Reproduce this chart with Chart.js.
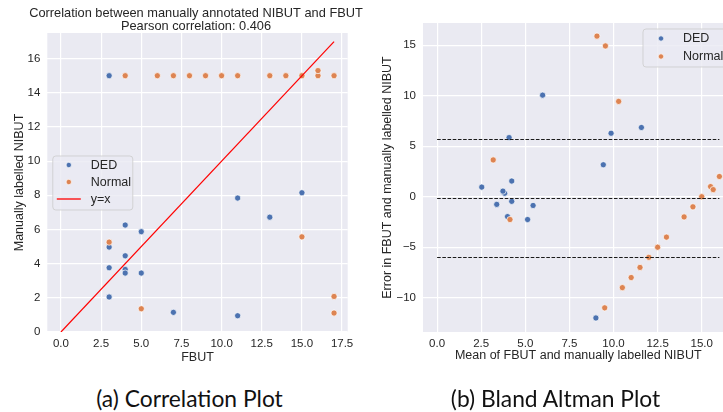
<!DOCTYPE html>
<html><head><meta charset="utf-8">
<script src="https://cdn.jsdelivr.net/npm/chart.js@4.4.1/dist/chart.umd.min.js"></script>
<style>
html,body{margin:0;padding:0;background:#fff;overflow:hidden;width:723px;height:412px;}
canvas{position:absolute;top:0;}
#c1{left:0;}
#c2{left:360px;}
.cap{position:absolute;font-family:Lato,'Open Sans',sans-serif;font-size:22.8px;line-height:22px;color:#111;white-space:nowrap;text-align:center;width:300px;}
</style></head><body>
<canvas id="c1" width="380" height="372"></canvas>
<canvas id="c2" width="380" height="372"></canvas>
<div class="cap" style="left:39.5px;top:386.5px;">(a) Correlation Plot</div>
<div class="cap" style="left:405.5px;top:386.5px;">(b) Bland Altman Plot</div>
<script>
// ---- Data: correlation plot (FBUT vs manually labelled NIBUT)
const dedFBUT   = [3, 11, 15, 13, 4, 5, 3, 4, 3, 4, 4, 5, 3, 7, 11];
const dedNIBUT  = [15, 7.84, 8.15, 6.72, 6.26, 5.87, 4.97, 4.46, 3.76, 3.66, 3.45, 3.45, 2.05, 1.15, 0.95];
const normalFBUT  = [4, 6, 7, 8, 9, 10, 11, 13, 14, 15, 16, 16, 17, 3, 5, 15, 17, 17];
const normalNIBUT = [15, 15, 15, 15, 15, 15, 15, 15, 15, 15, 15, 15.3, 15, 5.26, 1.36, 5.57, 2.08, 1.11];
const identityLine = [0, 17];

// ---- Data: Bland Altman plot (mean vs error)
const dedMean  = [9, 9.42, 11.58, 9.86, 5.13, 5.44, 3.99, 4.23, 3.38, 3.83, 3.73, 4.23, 2.53, 4.08, 5.98];
const dedDiff  = [-12, 3.16, 6.85, 6.28, -2.26, -0.87, -1.97, -0.46, -0.76, 0.34, 0.55, 1.55, 0.95, 5.85, 10.05];
const normalMean = [9.5, 10.5, 11, 11.5, 12, 12.5, 13, 14, 14.5, 15, 15.5, 15.65, 16, 4.13, 3.18, 10.29, 9.54, 9.06];
const normalDiff = [-11, -9, -8, -7, -6, -5, -4, -2, -1, 0, 1, 0.7, 2, -2.26, 3.64, 9.43, 14.92, 15.89];
const baLimits = [5.66, -0.18, -6.02];   // upper LoA, mean, lower LoA
const baLineX = [0, 16];

// ---- Ticks
const corrXTicks = [0, 2.5, 5, 7.5, 10, 12.5, 15, 17.5];
const corrYTicks = [0, 2, 4, 6, 8, 10, 12, 14, 16];
const baXTicks = [0, 2.5, 5, 7.5, 10, 12.5, 15];
const baYTicks = [-10, -5, 0, 5, 10, 15];

const BLUE = '#4C72B0', ORANGE = '#DD8452', TXT = '#262626', BG = '#EAEAF2';
const FONT = "'Liberation Sans', Arial, sans-serif";

const pts = (xs, ys) => xs.map((x, i) => ({x, y: ys[i]}));
const fmtMinus = v => (v < 0 ? '\u2212' + Math.abs(v) : String(v));

const bgPlugin = {
  id: 'bg',
  beforeDraw(chart) {
    const {ctx, chartArea: a} = chart;
    ctx.save(); ctx.fillStyle = BG;
    ctx.fillRect(a.left, a.top, a.right - a.left, a.bottom - a.top);
    ctx.restore();
  }
};

function rrect(ctx, x, y, w, h, r) {
  ctx.beginPath();
  ctx.moveTo(x + r, y);
  ctx.lineTo(x + w - r, y); ctx.arcTo(x + w, y, x + w, y + r, r);
  ctx.lineTo(x + w, y + h - r); ctx.arcTo(x + w, y + h, x + w - r, y + h, r);
  ctx.lineTo(x + r, y + h); ctx.arcTo(x, y + h, x, y + h - r, r);
  ctx.lineTo(x, y + r); ctx.arcTo(x, y, x + r, y, r);
  ctx.closePath();
}

const legendPlugin = {
  id: 'customLegend',
  afterDraw(chart, args, o) {
    if (!o || !o.items) return;
    const {ctx, chartArea: a} = chart;
    const bx = a.left + o.dx, by = a.top + o.dy;
    ctx.save();
    rrect(ctx, bx, by, o.w, o.h, 3);
    ctx.fillStyle = 'rgba(234,234,242,0.8)';
    ctx.fill();
    ctx.strokeStyle = 'rgba(204,204,204,0.8)';
    ctx.lineWidth = 1;
    ctx.stroke();
    ctx.font = '12.5px ' + FONT;
    ctx.textBaseline = 'middle';
    ctx.fillStyle = TXT;
    o.items.forEach((it, i) => {
      const y = by + o.first + i * o.gap;
      if (it.type === 'line') {
        ctx.strokeStyle = it.color; ctx.lineWidth = 1.3;
        ctx.beginPath(); ctx.moveTo(bx + o.lineX0, y); ctx.lineTo(bx + o.lineX1, y); ctx.stroke();
      } else {
        ctx.beginPath(); ctx.arc(bx + o.mx, y, 2.7, 0, Math.PI * 2);
        ctx.fillStyle = it.color; ctx.fill();
        ctx.strokeStyle = '#fff'; ctx.lineWidth = 0.7; ctx.stroke();
      }
      ctx.fillStyle = TXT;
      ctx.fillText(it.label, bx + o.tx, y + 0.5);
    });
    ctx.restore();
  }
};

const titlePlugin = {
  id: 'twoLineTitle',
  afterDraw(chart, args, o) {
    if (!o || !o.lines) return;
    const {ctx, chartArea: a} = chart;
    ctx.save();
    ctx.font = '12.8px ' + FONT;
    ctx.fillStyle = TXT; ctx.textAlign = 'center'; ctx.textBaseline = 'middle';
    const cx = (a.left + a.right) / 2 - 1.5;
    o.lines.forEach((t, i) => ctx.fillText(t, cx, o.y0 + i * o.gap));
    ctx.restore();
  }
};

const scatterDs = (label, data, color) => ({
  type: 'scatter', label, data,
  backgroundColor: color, borderColor: '#ffffff', borderWidth: 0.7,
  pointRadius: 3.1, pointHoverRadius: 3.1
});

function axis(opts) {
  const {min, max, ticks, fmt, size, horizontal, title, titlePad} = opts;
  return {
    type: 'linear', min, max,
    afterBuildTicks: s => { s.ticks = ticks.map(v => ({value: v})); },
    afterFit: s => { if (horizontal) s.height = size; else s.width = size; },
    grid: {color: '#ffffff', lineWidth: 1.2, drawTicks: false},
    border: {display: false},
    ticks: {
      color: TXT, font: {family: FONT, size: 11.5},
      padding: horizontal ? 5 : 7,
      maxRotation: 0, autoSkip: false,
      callback: v => fmt(v)
    },
    title: {display: true, text: title, color: TXT, font: {family: FONT, size: 12.5}, padding: titlePad}
  };
}

const common = {
  responsive: false, animation: false,
  plugins: {legend: {display: false}, tooltip: {enabled: false}},
};

new Chart(document.getElementById('c1'), {
  type: 'scatter',
  data: {
    datasets: [
      {type: 'line', label: 'y=x', data: pts(identityLine, identityLine),
       borderColor: '#ff0000', borderWidth: 1.2, pointRadius: 0, fill: false, tension: 0, order: 0},
      Object.assign(scatterDs('DED', pts(dedFBUT, dedNIBUT), BLUE), {order: 2}),
      Object.assign(scatterDs('Normal', pts(normalFBUT, normalNIBUT), ORANGE), {order: 1})
    ]
  },
  options: Object.assign({}, common, {
    layout: {padding: {left: 0, top: 33, right: 32.3, bottom: 0}},
    scales: {
      x: axis({min: -0.85, max: 17.85, ticks: corrXTicks, fmt: v => v.toFixed(1), size: 40,
               horizontal: true, title: 'FBUT', titlePad: {top: 0, bottom: 7.3}}),
      y: axis({min: 0, max: 17.5, ticks: corrYTicks, fmt: v => String(v), size: 47.3,
               horizontal: false, title: 'Manually labelled NIBUT', titlePad: {top: 12, bottom: 0}})
    },
    plugins: Object.assign({}, common.plugins, {
      customLegend: {dx: 5.5, dy: 123, w: 80, h: 54, first: 9, gap: 17, mx: 16, tx: 38, lineX0: 4, lineX1: 28,
        items: [{label: 'DED', color: BLUE}, {label: 'Normal', color: ORANGE}, {label: 'y=x', color: '#ff0000', type: 'line'}]},
      twoLineTitle: {lines: ['Correlation between manually annotated NIBUT and FBUT', 'Pearson correlation: 0.406'], y0: 13, gap: 13.5}
    })
  }),
  plugins: [bgPlugin, legendPlugin, titlePlugin]
});

const dashDs = (y) => ({
  type: 'line', data: pts(baLineX, [y, y]), borderColor: '#1a1a1a', borderWidth: 1.1,
  borderDash: [3.6, 1.6], pointRadius: 0, fill: false, order: 0
});

new Chart(document.getElementById('c2'), {
  type: 'scatter',
  data: {
    datasets: [
      Object.assign(scatterDs('DED', pts(dedMean, dedDiff), BLUE), {order: 2}),
      Object.assign(scatterDs('Normal', pts(normalMean, normalDiff), ORANGE), {order: 1}),
      ...baLimits.map(dashDs)
    ]
  },
  options: Object.assign({}, common, {
    layout: {padding: {left: 0, top: 23, right: 6.5, bottom: 0}},
    scales: {
      x: axis({min: -0.8, max: 16.8, ticks: baXTicks, fmt: v => v.toFixed(1), size: 40,
               horizontal: true, title: 'Mean of FBUT and manually labelled NIBUT', titlePad: {top: 0, bottom: 8.8}}),
      y: axis({min: -13.39, max: 17.19, ticks: baYTicks, fmt: fmtMinus, size: 63,
               horizontal: false, title: 'Error in FBUT and manually labelled NIBUT', titlePad: {top: 19.8, bottom: 0}})
    },
    plugins: Object.assign({}, common.plugins, {
      customLegend: {dx: 220, dy: 6, w: 100, h: 38, first: 9.5, gap: 18, mx: 18, tx: 40,
        items: [{label: 'DED', color: BLUE}, {label: 'Normal', color: ORANGE}]}
    })
  }),
  plugins: [bgPlugin, legendPlugin]
});
</script>
</body></html>
